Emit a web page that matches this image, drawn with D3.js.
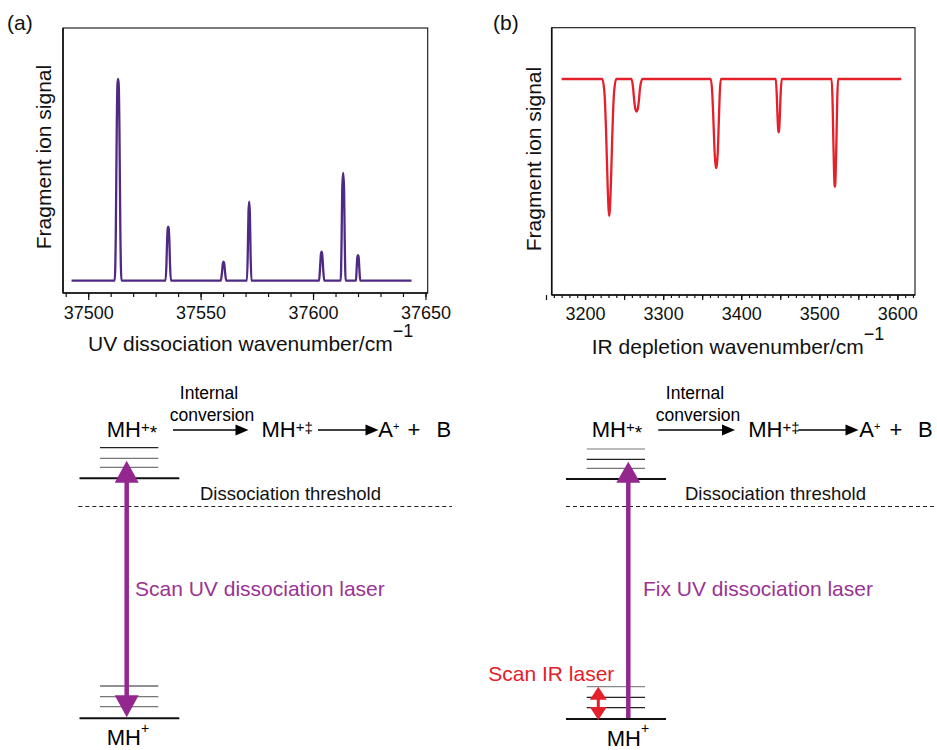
<!DOCTYPE html>
<html>
<head>
<meta charset="utf-8">
<script src="https://cdn.jsdelivr.net/npm/d3@7"></script>
<style>
  html, body { margin: 0; padding: 0; background: #fff; }
  svg { display: block; }
  text { font-family: "Liberation Sans", Arial, Helvetica, sans-serif; }
</style>
</head>
<body>
<svg id="chart" width="937" height="750"></svg>
<script>
// ---------------- DATA ----------------
// Panel (a): UV photodissociation spectrum [wavenumber, signal]
const uvSpectrum = [
  [37492.6, 0],
  [37511.8, 0], [37512.3, 0.25], [37512.7, 0.75], [37513.0, 0.97], [37513.3, 1.0], [37513.6, 0.97], [37513.9, 0.75], [37514.3, 0.25], [37514.8, 0],
  [37534.4, 0], [37534.8, 0.08], [37535.1, 0.2], [37535.4, 0.26], [37535.6, 0.268], [37535.8, 0.26], [37536.1, 0.2], [37536.4, 0.08], [37536.8, 0],
  [37559.0, 0], [37559.5, 0.04], [37559.9, 0.085], [37560.2, 0.094], [37560.5, 0.085], [37560.9, 0.04], [37561.4, 0],
  [37570.6, 0], [37571.0, 0.15], [37571.3, 0.34], [37571.6, 0.392], [37571.9, 0.34], [37572.2, 0.15], [37572.6, 0],
  [37602.7, 0], [37603.1, 0.06], [37603.5, 0.13], [37603.8, 0.144], [37604.1, 0.13], [37604.5, 0.06], [37605.0, 0],
  [37612.3, 0], [37612.7, 0.2], [37613.0, 0.46], [37613.4, 0.535], [37613.8, 0.46], [37614.1, 0.2], [37614.5, 0],
  [37619.1, 0], [37619.4, 0.06], [37619.7, 0.115], [37620.0, 0.127], [37620.3, 0.115], [37620.6, 0.06], [37621.0, 0],
  [37643.8, 0]
];
// Panel (b): IR depletion spectrum [wavenumber, signal]
const irSpectrum = [
  [3170, 1],
  [3222, 1], [3225, 0.93], [3227, 0.75], [3229, 0.5], [3230.3, 0.39], [3231, 0.366], [3231.7, 0.39], [3233, 0.5], [3235, 0.75], [3237, 0.93], [3240, 1],
  [3259.5, 1], [3261.5, 0.96], [3263, 0.9], [3264.5, 0.86], [3266, 0.849], [3267.5, 0.86], [3269, 0.9], [3270.5, 0.96], [3273.5, 1],
  [3361, 1], [3363, 0.93], [3364.5, 0.8], [3366, 0.66], [3367.3, 0.6], [3368, 0.587], [3368.7, 0.6], [3370, 0.66], [3371.3, 0.8], [3372.5, 0.93], [3374, 1],
  [3444.3, 1], [3445.5, 0.93], [3446.5, 0.83], [3447.4, 0.765], [3448, 0.753], [3448.6, 0.765], [3449.5, 0.83], [3450.5, 0.93], [3452, 1],
  [3515.8, 1], [3517, 0.9], [3518, 0.72], [3519, 0.56], [3519.6, 0.51], [3520, 0.501], [3520.4, 0.51], [3521, 0.56], [3522, 0.72], [3523, 0.9], [3524, 1],
  [3605, 1]
];
const uvTickLabels = [37500, 37550, 37600, 37650];
const uvMinorStep = 10;
const irTickLabels = [3200, 3300, 3400, 3500, 3600];
const irMinorStep = 10, irMidStep = 50;

const panelLabels = ["(a)", "(b)"];
const yTitle = "Fragment ion signal";
const xTitles = ["UV dissociation wavenumber/cm", "IR depletion wavenumber/cm"];
const laserLabels = ["Scan UV dissociation laser", "Fix UV dissociation laser"];
const irLaserLabel = "Scan IR laser";

// ---------------- DRAW ----------------
const svg = d3.select("#chart");
const FONT = '"Liberation Sans", Arial, Helvetica, sans-serif';
const PURPLE_LINE = "#4e2a84";
const RED = "#e4202a";
const MAGENTA = "#93278f";
const MAGENTA_TXT = "#9a3394";

function panel(opts) {
  const g = svg.append("g");
  const x = d3.scaleLinear().domain(opts.xDomain).range([opts.left, opts.right]);
  const y = d3.scaleLinear().domain(opts.yDomain).range([opts.bottom, opts.top]);

  g.append("rect")
    .attr("x", opts.left).attr("y", opts.top)
    .attr("width", opts.right - opts.left).attr("height", opts.bottom - opts.top)
    .attr("fill", "none").attr("stroke", "#111").attr("stroke-width", 1.1);

  const minor = d3.range(opts.minorStart, opts.xDomain[1] + 0.01, opts.minorStep);
  g.append("g").attr("transform", `translate(0,${opts.bottom})`)
    .call(d3.axisBottom(x).tickValues(minor).tickSize(opts.minorSize).tickFormat(""))
    .call(a => a.select(".domain").remove());
  if (opts.mid) {
    g.append("g").attr("transform", `translate(0,${opts.bottom})`)
      .call(d3.axisBottom(x).tickValues(opts.mid).tickSize(opts.majorSize).tickFormat(""))
      .call(a => a.select(".domain").remove());
  }
  const ax = g.append("g").attr("transform", `translate(0,${opts.bottom})`)
    .call(d3.axisBottom(x).tickValues(opts.labels).tickSize(opts.majorSize).tickPadding(opts.pad).tickFormat(d3.format("d")));
  ax.select(".domain").remove();
  ax.selectAll("text").attr("font-size", 18).attr("font-family", FONT).attr("fill", "#111");
  g.selectAll(".tick line").attr("stroke", "#111").attr("stroke-width", 1.2);

  g.append("line").attr("x1", opts.left).attr("x2", opts.right).attr("y1", opts.bottom).attr("y2", opts.bottom)
    .attr("stroke", "#111").attr("stroke-width", 1.6);
  g.append("line").attr("x1", opts.left).attr("x2", opts.left).attr("y1", opts.top).attr("y2", opts.bottom)
    .attr("stroke", "#111").attr("stroke-width", 1.6);

  const line = d3.line().x(d => x(d[0])).y(d => y(d[1])).curve(d3.curveMonotoneX);
  g.append("path").datum(opts.data).attr("d", line)
    .attr("fill", "none").attr("stroke", opts.color).attr("stroke-width", 2.3)
    .attr("stroke-linejoin", "round");

  g.append("text").attr("transform", `translate(${opts.yTitleX},${opts.yTitleY}) rotate(-90)`)
    .attr("text-anchor", "middle").attr("font-size", 21).attr("fill", "#111").text(yTitle);
  const xt = g.append("text").attr("x", opts.xTitleX).attr("y", opts.xTitleY)
    .attr("font-size", 21).attr("fill", "#111");
  xt.append("tspan").text(opts.xTitle);
  xt.append("tspan").attr("y", opts.xTitleY - 14).attr("font-size", 18).text("\u22121");

  g.append("text").attr("x", opts.plX).attr("y", 30).attr("font-size", 21).attr("fill", "#111").text(opts.panelLabel);
}

panel({
  data: uvSpectrum, color: PURPLE_LINE,
  xDomain: [37488.8, 37651], yDomain: [-0.061, 1.253],
  left: 63, right: 427.7, top: 28, bottom: 293,
  minorStart: 37490, minorStep: uvMinorStep, minorSize: 4,
  labels: uvTickLabels, majorSize: 7, pad: 6,
  xTitle: xTitles[0], xTitleX: 88, xTitleY: 351,
  yTitleX: 50.5, yTitleY: 157, plX: 7, panelLabel: panelLabels[0]
});
panel({
  data: irSpectrum, color: RED,
  xDomain: [3157.3, 3622.6], yDomain: [0, 1.2375],
  left: 551.7, right: 915, top: 27.7, bottom: 295,
  minorStart: 3160, minorStep: irMinorStep, minorSize: 3,
  mid: d3.range(3150, 3622, irMidStep), labels: irTickLabels, majorSize: 5, pad: 7,
  xTitle: xTitles[1], xTitleX: 591.7, xTitleY: 354,
  yTitleX: 541, yTitleY: 159, plX: 493, panelLabel: panelLabels[1]
});

// ---------------- ENERGY-LEVEL DIAGRAMS ----------------
const d = svg.append("g");

function hline(x1, x2, yy, color, w, dash) {
  const l = d.append("line").attr("x1", x1).attr("x2", x2).attr("y1", yy).attr("y2", yy)
    .attr("stroke", color).attr("stroke-width", w);
  if (dash) l.attr("stroke-dasharray", dash);
}
function rightArrow(x1, x2, yy) {
  d.append("line").attr("x1", x1).attr("x2", x2 - 10).attr("y1", yy).attr("y2", yy)
    .attr("stroke", "#000").attr("stroke-width", 1.7);
  d.append("path").attr("d", `M${x2},${yy} L${x2 - 13},${yy - 5.5} L${x2 - 13},${yy + 5.5} Z`).attr("fill", "#000");
}
function vArrow(xx, yTop, yBot, color, w, headW, headL, topHead, botHead) {
  const y1 = topHead ? yTop + headL - 2 : yTop;
  const y2 = botHead ? yBot - headL + 2 : yBot;
  d.append("line").attr("x1", xx).attr("x2", xx).attr("y1", y1).attr("y2", y2)
    .attr("stroke", color).attr("stroke-width", w);
  if (topHead) d.append("path").attr("d", `M${xx},${yTop} L${xx - headW / 2},${yTop + headL} L${xx + headW / 2},${yTop + headL} Z`).attr("fill", color);
  if (botHead) d.append("path").attr("d", `M${xx},${yBot} L${xx - headW / 2},${yBot - headL} L${xx + headW / 2},${yBot - headL} Z`).attr("fill", color);
}
function rich(x0, parts) {
  const t = d.append("text").attr("x", x0).attr("fill", "#000");
  parts.forEach(p => {
    const s = t.append("tspan").attr("y", p.y).attr("font-size", p.size).text(p.t);
    if (p.dx) s.attr("dx", p.dx);
  });
  return t;
}
function centered(cx, yy, size, txt) {
  d.append("text").attr("x", cx).attr("y", yy).attr("text-anchor", "middle").attr("font-size", size).attr("fill", "#000").text(txt);
}

function diagram(o) {
  centered(o.icx, 399.3, 17.5, "Internal");
  centered(o.icx + 3, 420.5, 17.5, "conversion");
  rich(o.mh1, [{t: "MH", y: 437, size: 22}, {t: "+", y: 432, size: 15}, {t: "*", y: 439, size: 19}]);
  rightArrow(o.a1[0], o.a1[1], 430);
  rich(o.mh2, [{t: "MH", y: 437, size: 22}, {t: "+", y: 432, size: 15}, {t: "\u2021", y: 433, size: 15}]);
  rightArrow(o.a2[0], o.a2[1], 430);
  rich(o.ax, [{t: "A", y: 437, size: 22}, {t: "+", y: 430, size: 11}]);
  rich(o.px, [{t: "+", y: 437, size: 22}]);
  rich(o.bx, [{t: "B", y: 437, size: 22}]);

  o.upLevels.forEach((yy, i) => hline(o.thin[0], o.thin[1], yy, o.upColors[i], 1.2));
  hline(o.thick[0], o.thick[1], o.upThick, "#111", 2);
  d.append("text").attr("x", o.thx).attr("y", 500).attr("font-size", 18.5).attr("fill", "#111").text("Dissociation threshold");
  hline(o.dash[0], o.dash[1], 506.5, "#222", 1, "4,3");
  o.lowLevels.forEach((yy, i) => hline(o.thin[0], o.thin[1], yy, o.lowColors[i], 1.2));
  hline(o.thick[0], o.thick[1], o.lowThick, "#111", 2);
  rich(o.mh0, [{t: "MH", y: o.mh0y, size: 22}, {t: "+", y: o.mh0y - 12.5, size: 14}]);
}

diagram({
  icx: 209, mh1: 106.7, a1: [173, 248.5], mh2: 261.5, a2: [318, 378.5], ax: 378.3, px: 407.5, bx: 436.5,
  upLevels: [447.7, 458.3, 467.3], upColors: ["#222", "#777", "#777"],
  thin: [100, 158.3], thick: [79.5, 179.3], upThick: 478.3,
  thx: 200, dash: [78.3, 452],
  lowLevels: [686, 696.7, 706.7], lowColors: ["#222", "#777", "#777"], lowThick: 718.3,
  mh0: 106.7, mh0y: 745
});
diagram({
  icx: 695, mh1: 591.7, a1: [658.3, 735], mh2: 748.3, a2: [798.3, 858.5], ax: 859.3, px: 889.5, bx: 918,
  upLevels: [449, 459.3, 468.3], upColors: ["#777", "#222", "#777"],
  thin: [586.7, 645], thick: [566, 666], upThick: 479,
  thx: 685, dash: [566, 937],
  lowLevels: [686.7, 697.3, 707.7], lowColors: ["#888", "#222", "#222"], lowThick: 719,
  mh0: 606.7, mh0y: 745.5
});

vArrow(126.7, 460.7, 717.3, MAGENTA, 4.5, 24, 22, true, true);
vArrow(628.3, 461.7, 718, MAGENTA, 4.5, 24, 21, true, false);
vArrow(598.3, 686.7, 720, RED, 3, 17, 13, true, true);

d.append("text").attr("x", 135).attr("y", 596).attr("font-size", 21).attr("fill", MAGENTA_TXT).text(laserLabels[0]);
d.append("text").attr("x", 643).attr("y", 596).attr("font-size", 21).attr("fill", MAGENTA_TXT).text(laserLabels[1]);
d.append("text").attr("x", 488.3).attr("y", 680.5).attr("font-size", 21).attr("fill", RED).text(irLaserLabel);
</script>
</body>
</html>
